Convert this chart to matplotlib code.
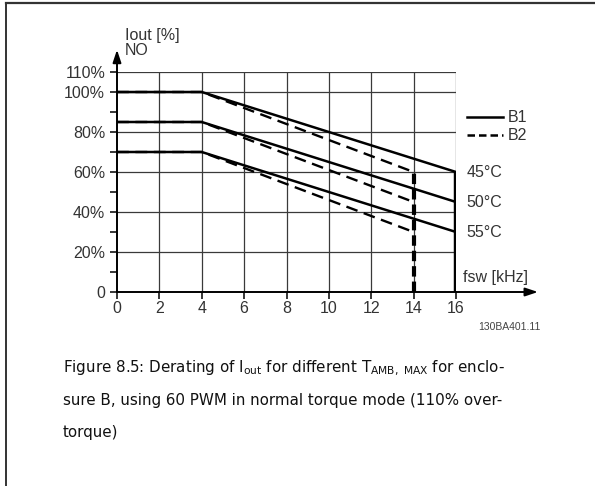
import matplotlib
matplotlib.use("Agg")
import matplotlib.pyplot as plt
from matplotlib.lines import Line2D

# --- derating curves (Iout % vs switching frequency kHz) ---
freq_b1 = [0, 4, 16]
freq_b2 = [0, 4, 14]
b1_curves = [[100, 100, 60], [85, 85, 45], [70, 70, 30]]
b2_curves = [[100, 100, 60], [85, 85, 45], [70, 70, 30]]
temp_labels = ["45°C", "50°C", "55°C"]

x_ticks = [0, 2, 4, 6, 8, 10, 12, 14, 16]
y_ticks = [0, 20, 40, 60, 80, 100, 110]
y_ticklabels = ["0", "20%", "40%", "60%", "80%", "100%", "110%"]
y_minor = [10, 30, 50, 70, 90]

W, H = 595, 486
fig = plt.figure(figsize=(W / 100, H / 100), dpi=100)

FS = 11.5
TXT = dict(fontsize=FS, family="Liberation Sans", color="#333333", clip_on=False)

# axes placed so data maps onto the reference pixels
x0, x1, y0, y1 = 117, 456, 292, 72
ax = fig.add_axes([x0 / W, 1 - y0 / H, (x1 - x0) / W, (y0 - y1) / H])
ax.set_xlim(0, 16)
ax.set_ylim(0, 110)

grid_kw = dict(color="#3a3a3a", lw=0.9, zorder=1)
for yv in y_ticks[1:]:
    ax.plot([0, 16], [yv, yv], **grid_kw)
for xv in x_ticks[1:-1]:
    ax.plot([xv, xv], [0, 110], **grid_kw)
ax.plot([16, 16], [60, 110], **grid_kw)

for vals in b1_curves:
    ax.plot(freq_b1, vals, color="black", lw=1.8, zorder=3, solid_capstyle="butt")
for vals in b2_curves:
    ax.plot(freq_b2, vals, color="black", lw=1.7, ls=(0, (5, 2.8)), zorder=3)

# cut-off verticals
ax.plot([16, 16], [0, b1_curves[0][-1]], color="black", lw=3.2, zorder=4, solid_capstyle="butt")
ax.plot([14, 14], [0, b2_curves[0][-1]], color="black", lw=3.0, ls=(0, (2.5, 1.2)), zorder=4)

for vals, lab in zip(b1_curves, temp_labels):
    ax.text(16.5, vals[-1], lab, va="center", ha="left", **TXT)

for s in ["top", "right"]:
    ax.spines[s].set_visible(False)
for s in ["left", "bottom"]:
    ax.spines[s].set_linewidth(1.4)
ax.set_xticks(x_ticks)
ax.set_xticklabels([str(v) for v in x_ticks])
ax.set_yticks(y_ticks)
ax.set_yticklabels(y_ticklabels)
ax.set_yticks(y_minor, minor=True)
ax.tick_params(axis="both", which="major", direction="out", length=5, width=1.1,
               labelsize=FS, labelcolor="#333333", pad=1.5)
ax.tick_params(axis="y", which="major", pad=3.5)
ax.tick_params(axis="y", which="minor", direction="out", length=5, width=1.1)
for t in ax.get_xticklabels() + ax.get_yticklabels():
    t.set_family("Liberation Sans")

# axis arrows
ax.annotate("", xy=(0, 122.5), xytext=(0, 109), annotation_clip=False,
            arrowprops=dict(arrowstyle="-|>,head_length=0.75,head_width=0.25", color="black", lw=1.4))
ax.annotate("", xy=(20, 0), xytext=(15.9, 0), annotation_clip=False,
            arrowprops=dict(arrowstyle="-|>,head_length=0.75,head_width=0.25", color="black", lw=1.4))

ax.text(0.38, 124.5, "Iout [%]\nNO", va="center", linespacing=0.95, **TXT)
ax.text(16.33, 7.5, "fsw [kHz]", va="center", **TXT)
ax.text(20.0, -17.5, "130BA401.11", fontsize=7.5, family="Liberation Sans", color="#444444",
        va="center", ha="right", clip_on=False)

# legend drawn by hand
ax.add_line(Line2D([16.5, 18.2], [87.5, 87.5], color="black", lw=1.8, clip_on=False))
ax.add_line(Line2D([16.5, 18.2], [78.5, 78.5], color="black", lw=1.8, ls=(0, (3, 1.6)), clip_on=False))
ax.text(18.45, 87.5, "B1", va="center", **TXT)
ax.text(18.45, 78.5, "B2", va="center", **TXT)

# caption
cap_lines = [r"Figure 8.5: Derating of I$_{\mathrm{out}}$ for different T$_{\mathrm{AMB,\ MAX}}$ for enclo-",
             "sure B, using 60 PWM in normal torque mode (110% over-",
             "torque)"]
for i, line in enumerate(cap_lines):
    fig.text(63 / W, 1 - (368 + 32 * i) / H, line, fontsize=10.9, family="DejaVu Sans",
             color="#111111", va="center", ha="left")

# page frame
fig.add_artist(Line2D([6 / W, 6 / W], [0, 1 - 3 / H], color="#333333", lw=1.4))
fig.add_artist(Line2D([6 / W, 1], [1 - 3 / H, 1 - 3 / H], color="#333333", lw=1.6))

fig.savefig("out.png", dpi=100)
